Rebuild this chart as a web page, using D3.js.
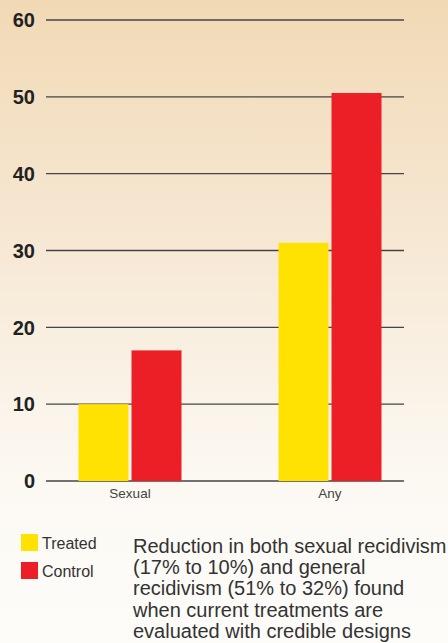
<!DOCTYPE html>
<html>
<head>
<meta charset="utf-8">
<script src="https://cdn.jsdelivr.net/npm/d3@7"></script>
<style>
  html, body { margin: 0; padding: 0; }
  body { width: 448px; height: 643px; overflow: hidden; }
</style>
</head>
<body>
<div id="chart"></div>
<script>
// Data
const categories = ["Sexual", "Any"];
const seriesNames = ["Treated", "Control"];
const treated = [10, 31];
const control = [17, 50.5];
const yTicks = [0, 10, 20, 30, 40, 50, 60];
const captionLines = [
    "Reduction in both sexual recidivism",
    "(17% to 10%) and general",
    "recidivism (51% to 32%) found",
    "when current treatments are",
    "evaluated with credible designs"
];

const W = 448, H = 643;
const colors = { Treated: "#ffe102", Control: "#ec1f26" };

const svg = d3.select("#chart").append("svg")
    .attr("width", W)
    .attr("height", H)
    .style("font-family", "'Liberation Sans', Arial, sans-serif");

// Background gradient (tan at top fading to off-white)
const grad = svg.append("defs").append("linearGradient")
    .attr("id", "bg")
    .attr("x1", 0).attr("y1", 0).attr("x2", 0).attr("y2", 1);
grad.append("stop").attr("offset", "0%").attr("stop-color", "#f1d9b5");
grad.append("stop").attr("offset", "40%").attr("stop-color", "#f7e9d6");
grad.append("stop").attr("offset", "75%").attr("stop-color", "#fcf9f3");
grad.append("stop").attr("offset", "100%").attr("stop-color", "#fdfcf9");

svg.append("rect")
    .attr("width", W)
    .attr("height", H)
    .attr("fill", "url(#bg)");

// Scales
const y = d3.scaleLinear()
    .domain([0, 60])
    .range([481, 20]);

const x0 = d3.scalePoint()
    .domain(categories)
    .range([130, 330]);

const x1 = d3.scaleBand()
    .domain(seriesNames)
    .range([-51.5, 51.5])
    .paddingInner(0.057);

// Gridlines + tick labels
const gridLeft = 46, gridRight = 404;

svg.append("g")
    .selectAll("line")
    .data(yTicks)
    .join("line")
    .attr("x1", gridLeft)
    .attr("x2", gridRight)
    .attr("y1", d => y(d))
    .attr("y2", d => y(d))
    .attr("stroke", "#444")
    .attr("stroke-width", 1.4);

svg.append("g")
    .selectAll("text")
    .data(yTicks)
    .join("text")
    .attr("x", 35)
    .attr("y", d => y(d))
    .attr("dy", "0.36em")
    .attr("text-anchor", "end")
    .attr("font-size", "20px")
    .attr("font-weight", "bold")
    .attr("fill", "#222")
    .text(d => d);

// Bars
const rows = categories.map((c, i) => ({ cat: c, Treated: treated[i], Control: control[i] }));

const groups = svg.append("g")
    .selectAll("g")
    .data(rows)
    .join("g")
    .attr("transform", d => `translate(${x0(d.cat)},0)`);

groups.selectAll("rect")
    .data(d => seriesNames.map(s => ({ key: s, value: d[s] })))
    .join("rect")
    .attr("x", d => x1(d.key))
    .attr("y", d => y(d.value))
    .attr("width", x1.bandwidth())
    .attr("height", d => y(0) - y(d.value))
    .attr("fill", d => colors[d.key]);

// Category labels
svg.append("g")
    .selectAll("text")
    .data(categories)
    .join("text")
    .attr("x", d => x0(d))
    .attr("y", 498)
    .attr("text-anchor", "middle")
    .attr("font-size", "13.5px")
    .attr("fill", "#444")
    .text(d => d);

// Legend
const legend = svg.append("g")
    .selectAll("g")
    .data(seriesNames)
    .join("g")
    .attr("transform", (d, i) => `translate(21,${534 + i * 28})`);

legend.append("rect")
    .attr("width", 17)
    .attr("height", 17)
    .attr("fill", d => colors[d]);

legend.append("text")
    .attr("x", 21)
    .attr("y", 14.5)
    .attr("font-size", "16px")
    .attr("fill", "#333")
    .text(d => d);

// Caption
svg.append("text")
    .attr("x", 133)
    .attr("y", 553)
    .attr("font-size", "20px")
    .attr("fill", "#333")
    .selectAll("tspan")
    .data(captionLines)
    .join("tspan")
    .attr("x", 133)
    .attr("dy", (d, i) => i === 0 ? 0 : 21.2)
    .text(d => d);
</script>
</body>
</html>
